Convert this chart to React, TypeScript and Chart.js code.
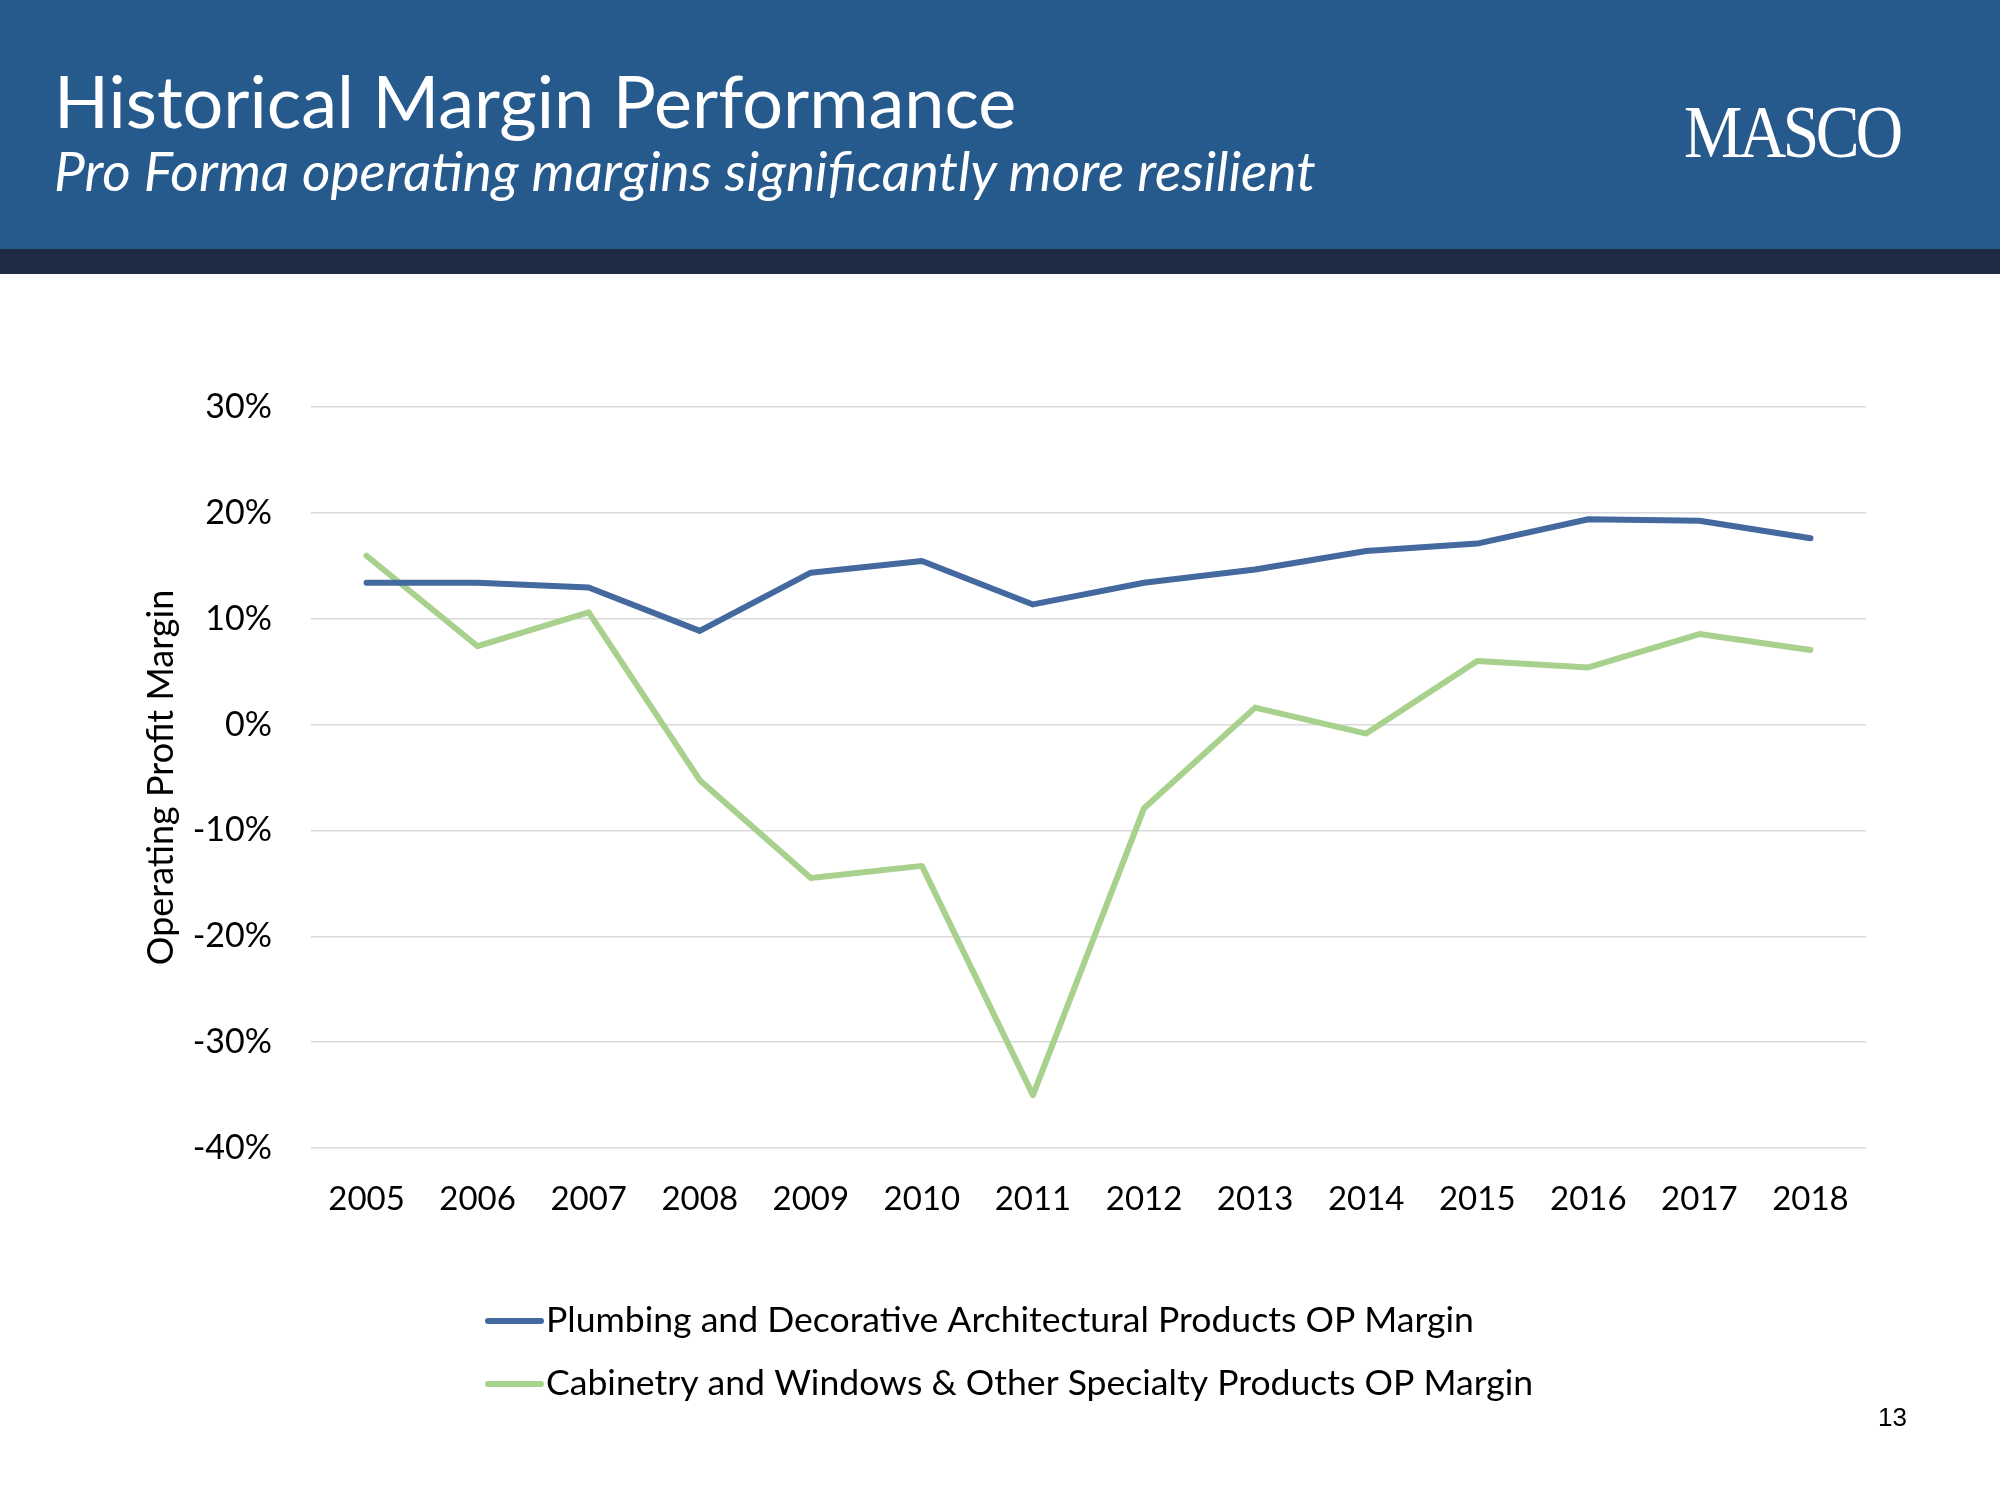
import React, { useEffect, useRef } from "react";
import { Chart, registerables } from "chart.js";

Chart.register(...registerables);

const years = ["2005", "2006", "2007", "2008", "2009", "2010", "2011", "2012", "2013", "2014", "2015", "2016", "2017", "2018"];
const plumbingMargin = [13.4, 13.4, 12.95, 8.85, 14.35, 15.45, 11.35, 13.4, 14.65, 16.4, 17.1, 19.4, 19.25, 17.6];
const cabinetryMargin = [15.95, 7.4, 10.6, -5.25, -14.5, -13.35, -35.0, -7.9, 1.6, -0.85, 6.0, 5.4, 8.55, 7.05];
const seriesLabels = [
  "Plumbing and Decorative Architectural Products OP Margin",
  "Cabinetry and Windows & Other Specialty Products OP Margin",
];
const seriesColors = ["#44699F", "#A9D18E"];
const yMin = -40;
const yMax = 30;
const yStep = 10;

const FONT = "Lato, 'Open Sans', sans-serif";

const legendPlugin = {
  id: "stackedLegend",
  afterDraw(chart: any) {
    const ctx = chart.ctx;
    const bottom = chart.chartArea.bottom;
    const rowOffsets = [173, 236];
    ctx.save();
    chart.data.datasets.forEach((ds: any, i: number) => {
      const y = bottom + rowOffsets[i];
      ctx.strokeStyle = ds.borderColor;
      ctx.lineWidth = 6;
      ctx.lineCap = "round";
      ctx.beginPath();
      ctx.moveTo(488, y);
      ctx.lineTo(541, y);
      ctx.stroke();
      ctx.fillStyle = "#000000";
      ctx.font = `35.6px ${FONT}`;
      ctx.textBaseline = "middle";
      ctx.textAlign = "left";
      ctx.fillText(ds.label, 546, y);
    });
    ctx.restore();
  },
};

function ChartCanvas() {
  const ref = useRef<HTMLCanvasElement | null>(null);
  useEffect(() => {
    if (!ref.current) return;
    const chart = new Chart(ref.current, {
      type: "line",
      data: {
        labels: years,
        datasets: [
          {
            label: seriesLabels[0],
            data: plumbingMargin,
            borderColor: seriesColors[0],
            backgroundColor: seriesColors[0],
            borderWidth: 6,
            pointRadius: 0,
            tension: 0,
            borderJoinStyle: "round",
            borderCapStyle: "round",
          },
          {
            label: seriesLabels[1],
            data: cabinetryMargin,
            borderColor: seriesColors[1],
            backgroundColor: seriesColors[1],
            borderWidth: 6,
            pointRadius: 0,
            tension: 0,
            borderJoinStyle: "round",
            borderCapStyle: "round",
          },
        ],
      },
      options: {
        animation: false,
        responsive: false,
        maintainAspectRatio: false,
        devicePixelRatio: 1,
        layout: { padding: { left: 130, right: 134, top: 133, bottom: 272 } },
        plugins: {
          legend: { display: false },
          tooltip: { enabled: false },
        },
        scales: {
          x: {
            type: "category",
            offset: true,
            grid: { display: false },
            border: { display: false },
            ticks: {
              color: "#000000",
              font: { family: FONT, size: 33 },
              padding: 24,
              maxRotation: 0,
              autoSkip: false,
            },
            afterFit: (scale: any) => {
              scale.height = 80;
            },
          },
          y: {
            min: yMin,
            max: yMax,
            grid: { color: "#D9D9D9", lineWidth: 1.5, drawTicks: false },
            border: { display: false },
            ticks: {
              stepSize: yStep,
              color: "#000000",
              font: { family: FONT, size: 34 },
              padding: 39,
              callback: (v: any) => `${v}%`,
            },
            title: {
              display: true,
              text: "Operating Profit Margin",
              color: "#000000",
              font: { family: FONT, size: 36 },
              padding: { top: 10, bottom: 0 },
            },
            afterFit: (scale: any) => {
              scale.width = 181;
            },
          },
        },
      },
      plugins: [legendPlugin],
    });
    return () => chart.destroy();
  }, []);
  return (
    <canvas
      ref={ref}
      width={2000}
      height={1226}
      style={{ position: "absolute", left: 0, top: 274, width: 2000, height: 1226 }}
    />
  );
}

export default function App() {
  return (
    <div
      style={{
        position: "absolute",
        left: 0,
        top: 0,
        width: 2000,
        height: 1500,
        overflow: "hidden",
        background: "#FFFFFF",
      }}
    >
      <div style={{ position: "absolute", left: 0, top: 0, width: 2000, height: 249, background: "#26598C" }} />
      <div style={{ position: "absolute", left: 0, top: 249, width: 2000, height: 25, background: "#1F2A44" }} />
      <div
        style={{
          position: "absolute",
          left: 54,
          top: 64,
          fontFamily: FONT,
          fontSize: 72,
          lineHeight: 1,
          color: "#FFFFFF",
          whiteSpace: "nowrap",
        }}
      >
        Historical Margin Performance
      </div>
      <div
        style={{
          position: "absolute",
          left: 54,
          top: 143,
          fontFamily: FONT,
          fontSize: 55,
          fontStyle: "italic",
          lineHeight: 1,
          color: "#FFFFFF",
          whiteSpace: "nowrap",
        }}
      >
        Pro Forma operating margins significantly more resilient
      </div>
      <div
        style={{
          position: "absolute",
          left: 1684,
          top: 95,
          fontFamily: "'Liberation Serif', 'DejaVu Serif', serif",
          fontSize: 74,
          lineHeight: 1,
          color: "#FFFFFF",
          letterSpacing: "-4px",
          transform: "scaleX(0.887)",
          transformOrigin: "left top",
          whiteSpace: "nowrap",
        }}
      >
        MASCO
      </div>
      <ChartCanvas />
      <div
        style={{
          position: "absolute",
          left: 1807,
          top: 1404,
          width: 100,
          textAlign: "right",
          fontFamily: "'Liberation Sans', Arial, sans-serif",
          fontSize: 26,
          lineHeight: 1,
          color: "#000000",
        }}
      >
        13
      </div>
    </div>
  );
}
